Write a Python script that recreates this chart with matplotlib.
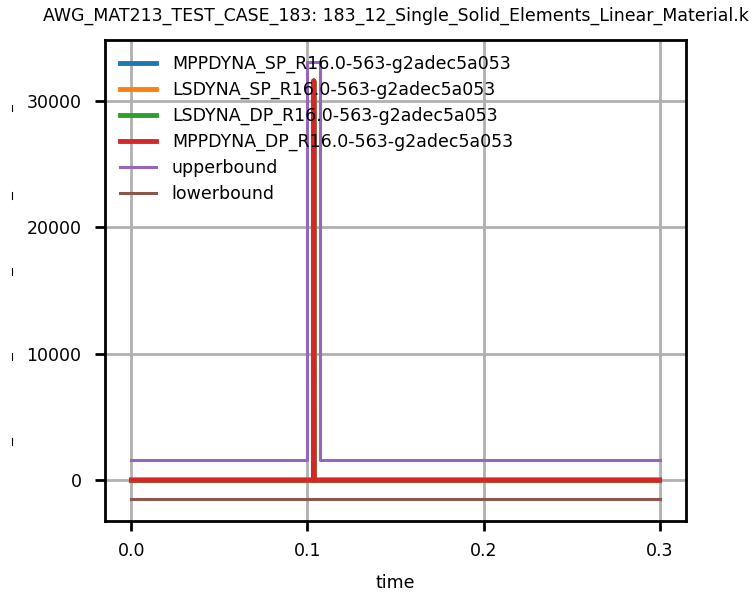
import numpy as np
import matplotlib.pyplot as plt
from matplotlib.lines import Line2D

title = 'AWG_MAT213_TEST_CASE_183: 183_12_Single_Solid_Elements_Linear_Material.k'
series_names = ['MPPDYNA_SP_R16.0-563-g2adec5a053',
                'LSDYNA_SP_R16.0-563-g2adec5a053',
                'LSDYNA_DP_R16.0-563-g2adec5a053',
                'MPPDYNA_DP_R16.0-563-g2adec5a053']

# simulation curves (all four runs agree)
t_sim = [0.0, 0.1034, 0.1036, 0.1038, 0.3]
v_sim = [0.0, 0.0, 31600.0, 0.0, 0.0]

# tolerance band
t_upper = [0.0, 0.0995, 0.0995, 0.1072, 0.1072, 0.3]
v_upper = [1600.0, 1600.0, 33100.0, 33100.0, 1600.0, 1600.0]
t_lower = [0.0, 0.3]
v_lower = [-1500.0, -1500.0]

fs = 12.5
fig = plt.figure(figsize=(7.53, 5.96), dpi=100)
ax = fig.add_axes([105 / 753, 1 - 521 / 596, 581 / 753, 481 / 596])

for name in series_names:
    ax.plot(t_sim, v_sim, linewidth=3.5, label=name)
ax.plot(t_upper, v_upper, linewidth=2.2, label='upperbound')
ax.plot(t_lower, v_lower, linewidth=2.2, label='lowerbound')

ax.grid(True, color='#b0b0b0', linewidth=2)
ax.set_axisbelow(True)
ax.set_xticks([0.0, 0.1, 0.2, 0.3])
ax.set_yticks([0, 10000, 20000, 30000])
ax.tick_params(labelsize=fs, length=7, width=2)
ax.tick_params(axis='x', pad=8)
ax.tick_params(axis='y', pad=10)
for s in ax.spines.values():
    s.set_linewidth(2)
ax.set_xlabel('time', fontsize=fs, labelpad=10)
ax.set_title(title, fontsize=fs, pad=14)
ax.legend(loc='upper left', frameon=False, fontsize=fs, handlelength=2.1,
          handletextpad=0.9, labelspacing=0.45, borderaxespad=0.45)

# stray marks at the left edge
for yp in [108, 195, 271, 356, 441]:
    y = 1 - yp / 596
    fig.add_artist(Line2D([11.7 / 753, 11.7 / 753], [y - 3.5 / 596, y + 3.5 / 596],
                          color='black', linewidth=0.8))

fig.savefig('out.png', dpi=100)
